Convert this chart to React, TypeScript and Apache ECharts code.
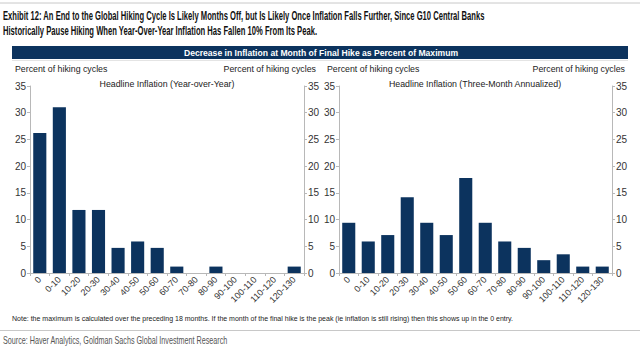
import React, { useEffect, useRef } from "react";
import * as echarts from "echarts";

const categories = ["0", "0-10", "10-20", "20-30", "30-40", "40-50", "50-60", "60-70", "70-80", "80-90", "90-100", "100-110", "110-120", "120-130"];
const yoyValues = [26.2, 31.0, 11.8, 11.8, 4.7, 5.9, 4.7, 1.2, 0, 1.2, 0, 0, 0, 1.2];
const threeMonthValues = [9.4, 5.9, 7.1, 14.2, 9.4, 7.1, 17.8, 9.4, 5.9, 4.7, 2.4, 3.5, 1.2, 1.2];
const yMin = 0;
const yMax = 35;
const yInterval = 5;

const titleLine1 = "Exhibit 12: An End to the Global Hiking Cycle Is Likely Months Off, but Is Likely Once Inflation Falls Further, Since G10 Central Banks";
const titleLine2 = "Historically Pause Hiking When Year-Over-Year Inflation Has Fallen 10% From Its Peak.";
const headerText = "Decrease in Inflation at Month of Final Hike as Percent of Maximum";
const axisTitle = "Percent of hiking cycles";
const leftPanelTitle = "Headline Inflation (Year-over-Year)";
const rightPanelTitle = "Headline Inflation (Three-Month Annualized)";
const noteText = "Note: the maximum is calculated over the preceding 18 months. If the month of the final hike is the peak (ie inflation is still rising) then this shows up in the 0 entry.";
const sourceText = "Source: Haver Analytics, Goldman Sachs Global Investment Research";

const NAVY = "#0c335e";
const FONT = "'Liberation Sans', Arial, sans-serif";

export default function App() {
  const ref = useRef<HTMLDivElement>(null);
  useEffect(() => {
    document.body.style.margin = "0";
    const chart = echarts.init(ref.current!, null, { renderer: "svg" });
    const yAxisBase = (gridIndex: number, position: "left" | "right") => ({
      type: "value",
      gridIndex,
      position,
      min: yMin,
      max: yMax,
      interval: yInterval,
      splitLine: { show: false },
      axisLine: { show: true, lineStyle: { color: "#b8b8b8", width: 1 } },
      axisTick: { show: true, length: 3, lineStyle: { color: "#b8b8b8" } },
      axisLabel: { fontSize: 10, color: "#333", fontFamily: FONT, margin: 4 },
    });
    const xAxisBase = (gridIndex: number) => ({
      type: "category",
      gridIndex,
      data: categories,
      axisLine: { show: true, lineStyle: { color: "#b8b8b8", width: 1 } },
      axisTick: { show: true, length: 3, lineStyle: { color: "#b8b8b8" } },
      axisLabel: { interval: 0, rotate: 45, fontSize: 9, color: "#333", fontFamily: FONT, margin: 5 },
    });
    const ts = (extra: any) => ({ fontFamily: FONT, fill: "#222", ...extra });
    const condensed = (x: number, y: number, scaleX: number, style: any) => ({
      type: "group",
      x,
      y,
      scaleX,
      children: [{ type: "text", x: 0, y: 0, style: ts(style) }],
    });
    chart.setOption({
      animation: false,
      backgroundColor: "#fff",
      grid: [
        { left: 30, right: 336, top: 86, bottom: 80 },
        { left: 339, right: 28, top: 86, bottom: 80 },
      ],
      xAxis: [xAxisBase(0), xAxisBase(1)],
      yAxis: [yAxisBase(0, "left"), yAxisBase(0, "right"), yAxisBase(1, "left"), yAxisBase(1, "right")],
      series: [
        { type: "bar", xAxisIndex: 0, yAxisIndex: 0, data: yoyValues, barCategoryGap: "33%", itemStyle: { color: NAVY } },
        { type: "bar", xAxisIndex: 1, yAxisIndex: 2, data: threeMonthValues, barCategoryGap: "33%", itemStyle: { color: NAVY } },
      ],
      graphic: [
        { type: "line", shape: { x1: 0, y1: 3, x2: 640, y2: 3 }, style: { stroke: "#c8c8c8", lineWidth: 1 } },
        condensed(3, 16, 0.61, { text: titleLine1, fontSize: 12.5, fontWeight: "bold", fill: "#111", verticalAlign: "middle" }),
        condensed(3, 31, 0.61, { text: titleLine2, fontSize: 12.5, fontWeight: "bold", fill: "#111", verticalAlign: "middle" }),
        { type: "rect", shape: { x: 12, y: 46, width: 616, height: 13 }, style: { fill: NAVY } },
        { type: "text", x: 321, y: 52.5, style: ts({ text: headerText, fontSize: 8.6, fontWeight: "bold", fill: "#fff", align: "center", verticalAlign: "middle" }) },
        { type: "line", shape: { x1: 12, y1: 60.5, x2: 628, y2: 60.5 }, style: { stroke: "#e4e4e4", lineWidth: 1 } },
        { type: "text", x: 15, y: 69, style: ts({ text: axisTitle, fontSize: 8.8, align: "left", verticalAlign: "middle" }) },
        { type: "text", x: 316, y: 69, style: ts({ text: axisTitle, fontSize: 8.8, align: "right", verticalAlign: "middle" }) },
        { type: "text", x: 327, y: 69, style: ts({ text: axisTitle, fontSize: 8.8, align: "left", verticalAlign: "middle" }) },
        { type: "text", x: 625, y: 69, style: ts({ text: axisTitle, fontSize: 8.8, align: "right", verticalAlign: "middle" }) },
        { type: "text", x: 167, y: 84, style: ts({ text: leftPanelTitle, fontSize: 8.8, align: "center", verticalAlign: "middle" }) },
        { type: "text", x: 475, y: 84, style: ts({ text: rightPanelTitle, fontSize: 8.8, align: "center", verticalAlign: "middle" }) },
        { type: "text", x: 12, y: 318, style: ts({ text: noteText, fontSize: 7, align: "left", verticalAlign: "middle" }) },
        { type: "line", shape: { x1: 0, y1: 330.5, x2: 640, y2: 330.5 }, style: { stroke: "#c8c8c8", lineWidth: 1 } },
        condensed(3, 341, 0.72, { text: sourceText, fontSize: 10, fill: "#555", verticalAlign: "middle" }),
      ],
    });
    return () => chart.dispose();
  }, []);
  return <div ref={ref} style={{ width: 640, height: 353 }} />;
}
